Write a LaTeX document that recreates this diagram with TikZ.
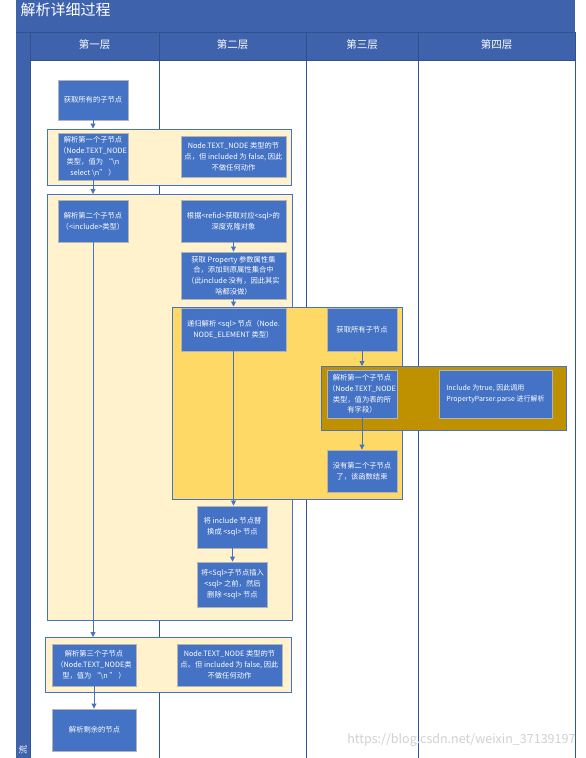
\documentclass[tikz,border=0pt]{standalone}
\usepackage{fontspec}
\setmainfont{Noto Sans CJK SC}
\usetikzlibrary{arrows.meta}
\definecolor{hdr}{HTML}{3F62AD}
\definecolor{hdrline}{HTML}{2F528F}
\definecolor{nodeblue}{HTML}{4472C4}
\definecolor{nodeborder}{HTML}{B4B4B4}
\definecolor{lightyel}{HTML}{FFF2CC}
\definecolor{midyel}{HTML}{FFD966}
\definecolor{goldbox}{HTML}{BF9000}
\definecolor{laneline}{HTML}{2F5597}
\tikzset{
  proc/.style={draw=nodeborder, line width=0.9pt, fill=nodeblue, text=white,
    font=\fontsize{7.3}{10.8}\selectfont, align=center, inner sep=1pt},
  grp/.style={draw=nodeblue, line width=0.9pt, anchor=north west, inner sep=0pt},
  conn/.style={draw=nodeblue, line width=0.9pt, -{Triangle[length=5pt,width=5pt]}},
  lane/.style={draw=laneline, line width=0.9pt},
  hdrtext/.style={text=white, font=\fontsize{10.5}{12}\selectfont}
}
\begin{document}
\begin{tikzpicture}[x=1pt,y=-1pt]
\useasboundingbox (0,0) rectangle (586,758);
\fill[white] (0,0) rectangle (586,758);
% title bar, header, left bar
\fill[hdr] (16,0) rectangle (575,32);
\node[text=white, font=\fontsize{15}{17}\selectfont, anchor=west] (title) at (17,10) {解析详细过程};
\fill[hdr] (16,32) rectangle (30,758);
\fill[hdr] (30,32) rectangle (575,60);
\draw[hdrline, line width=0.9pt] (16,32) -- (575,32);
\draw[hdrline, line width=0.9pt] (30,32) rectangle (575,60);
\foreach \xx in {159,306,418} \draw[hdrline, line width=0.9pt] (\xx,32) -- (\xx,60);
\node[hdrtext] (h1) at (94.5,45) {第一层};
\node[hdrtext] (h2) at (232.5,45) {第二层};
\node[hdrtext] (h3) at (362,45) {第三层};
\node[hdrtext] (h4) at (496.5,45) {第四层};
\node[text=white, rotate=90, font=\fontsize{9}{10}\selectfont, inner sep=0pt] (side) at (23,750) {流};
% lane lines
\foreach \xx in {30,159,306,418,575} \draw[lane] (\xx,60) -- (\xx,758);
% groups
\node[grp, fill=lightyel, minimum width=244pt, minimum height=56pt] (g1) at (47,128.5) {};
\node[grp, fill=lightyel, minimum width=245pt, minimum height=426pt] (g2) at (47,194) {};
\node[grp, fill=midyel, minimum width=230pt, minimum height=192pt] (g3) at (172,306.5) {};
\node[grp, fill=goldbox, minimum width=245pt, minimum height=64pt] (g4) at (321,366) {};
\node[grp, fill=lightyel, minimum width=246pt, minimum height=55pt] (g5) at (45,637) {};
% nodes
\node[proc, minimum width=70pt, minimum height=40pt] (n1) at (93,100) {获取所有的子节点};
\node[proc, minimum width=70pt, minimum height=47pt] (a1) at (93,156.5) {解析第一个子节点\\（Node.TEXT\_NODE\\类型，值为 “\textbackslash n\\select \textbackslash n” ）};
\node[proc, minimum width=105pt, minimum height=41pt] (b1) at (233.5,156.5) {Node.TEXT\_NODE 类型的节\\点，但 included 为 false, 因此\\不做任何动作};
\node[proc, minimum width=70pt, minimum height=42pt] (a2) at (93,221) {解析第二个子节点\\（<include>类型）};
\node[proc, minimum width=105pt, minimum height=42pt] (b2) at (233.5,221) {根据<refid>获取对应<sql>的\\深度克隆对象};
\node[proc, minimum width=105pt, minimum height=47pt] (c2) at (233.5,275.5) {获取 Property 参数属性集\\合，添加到原属性集合中\\（此include 没有，因此其实\\啥都没做）};
\node[proc, minimum width=105pt, minimum height=43pt] (d) at (233.5,329.5) {递归解析 <sql> 节点（Node.\\NODE\_ELEMENT 类型）};
\node[proc, minimum width=70pt, minimum height=43pt] (e) at (362,329.5) {获取所有子节点};
\node[proc, minimum width=70pt, minimum height=48pt] (f) at (362,394) {解析第一个子节点\\（Node.TEXT\_NODE\\类型，值为表的所\\有字段）};
\node[proc, minimum width=113pt, minimum height=48pt, align=left, font=\fontsize{7}{10.8}\selectfont] (g) at (495.5,394) {Include 为true, 因此调用\\PropertyParser.parse 进行解析};
\node[proc, minimum width=70pt, minimum height=42pt] (h) at (362,471) {没有第二个子节点\\了，该函数结束};
\node[proc, minimum width=70pt, minimum height=42pt] (i) at (232.5,527) {将 include 节点替\\换成 <sql> 节点};
\node[proc, minimum width=70pt, minimum height=45pt] (j) at (232.5,584.5) {将<Sql>子节点插入\\<sql> 之前，然后\\删除 <sql> 节点};
\node[proc, minimum width=84pt, minimum height=42pt] (k) at (94,665) {解析第三个子节点\\（Node.TEXT\_NODE类\\型，值为 “\textbackslash n ” ）};
\node[proc, minimum width=105pt, minimum height=42pt] (l) at (229.5,665) {Node.TEXT\_NODE 类型的节\\点。但 included 为 false, 因此\\不做任何动作};
\node[proc, minimum width=84pt, minimum height=42pt] (m) at (94.5,730) {解析剩余的节点};
% connectors
\draw[conn] (n1) -- (n1 |- g1.north);
\draw[conn] (a1) -- (a1 |- g2.north);
\draw[conn] (a2) -- (a2 |- g5.north);
\draw[conn] (k) -- (k |- m.north);
\draw[conn] (b2) -- (c2);
\draw[conn] (c2) -- (c2 |- g3.north);
\draw[conn] (d) -- (d |- i.north);
\draw[conn] (i) -- (j);
\draw[conn] (e) -- (e |- g4.north);
\draw[conn] (f) -- (h);
% watermark
\node[text=black!18, font=\fontsize{12.5}{14}\selectfont, anchor=east] (wm) at (579,740) {https://blog.csdn.net/weixin\_37139197};
\end{tikzpicture}
\end{document}
